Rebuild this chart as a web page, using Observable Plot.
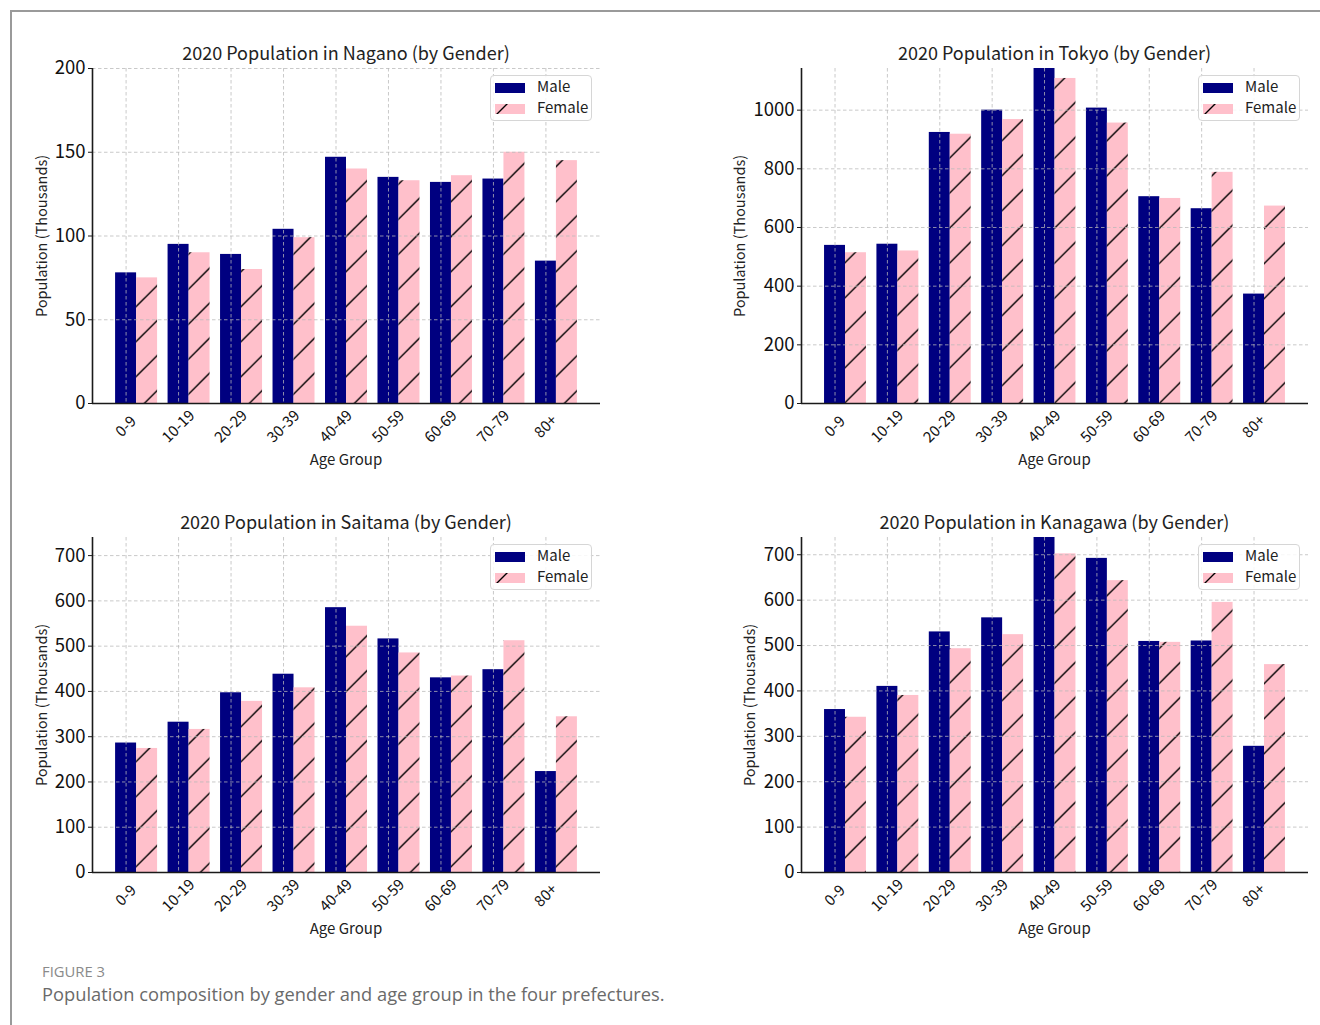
<!DOCTYPE html>
<html>
<head>
<meta charset="utf-8">
<script src="https://cdn.jsdelivr.net/npm/d3@7"></script>
<script src="https://cdn.jsdelivr.net/npm/@observablehq/plot@0.6"></script>
<style>
  html, body { margin: 0; padding: 0; background: #fff; }
  #fig { position: relative; width: 1320px; height: 1025px; overflow: hidden;
         font-family: 'Noto Sans CJK JP', 'Noto Sans', sans-serif; color: #222; }
  .frame { position: absolute; left: 10px; top: 10px; width: 1400px; height: 1100px;
           border-left: 2px solid #9a9a9a; border-top: 2px solid #9a9a9a; }
  .panel { position: absolute; width: 660px; height: 480px; }
  .panel svg { position: absolute; left: 0; top: 0; overflow: visible; }
  .title { position: absolute; transform: translate(-50%, -50%); font-size: 18px; color: #222; white-space: nowrap; }
  .xlabel { position: absolute; transform: translate(-50%, -50%); font-size: 15px; color: #222; white-space: nowrap; }
  .ylabel { position: absolute; transform: translate(-50%, -50%) rotate(-90deg); font-size: 14.5px; color: #222; white-space: nowrap; }
  .legend { position: absolute; width: 100px; height: 44px; border: 1px solid #d6d6d6; border-radius: 4px;
            background: rgba(255,255,255,0.85); }
  .legend .item { position: absolute; left: 4px; height: 16px; font-size: 15px; color: #222; }
  .legend .item svg { position: absolute; left: 0; top: 1px; }
  .legend .item span { position: absolute; left: 42px; top: -6px; white-space: nowrap; line-height: 20px; }
  .fignum { position: absolute; left: 42px; top: 961px; font-family: 'Open Sans', Lato, sans-serif; font-size: 14.8px; color: #8a8a8a; }
  .caption { position: absolute; left: 42px; top: 981px; font-family: 'Open Sans', Lato, sans-serif; font-size: 18.3px; color: #6a6a6a; white-space: nowrap; }
</style>
</head>
<body>
<div id="fig">
  <div class="frame"></div>
  <div class="fignum">FIGURE 3</div>
  <div class="caption">Population composition by gender and age group in the four prefectures.</div>
</div>
<script>
// ---- data ----
const ageGroups = ["0-9", "10-19", "20-29", "30-39", "40-49", "50-59", "60-69", "70-79", "80+"];
const genders = ["Male", "Female"];
const prefectures = ["Nagano", "Tokyo", "Saitama", "Kanagawa"];

const naganoMale     = [78, 95, 89, 104, 147, 135, 132, 134, 85];
const naganoFemale   = [75, 90, 80, 99, 140, 133, 136, 150, 145];
const tokyoMale      = [539, 543, 924, 1000, 1142, 1007, 705, 664, 373];
const tokyoFemale    = [514, 520, 918, 968, 1108, 956, 699, 788, 673];
const saitamaMale    = [286, 332, 397, 438, 585, 516, 430, 448, 223];
const saitamaFemale  = [274, 316, 378, 408, 544, 485, 434, 512, 344];
const kanagawaMale   = [359, 410, 530, 561, 738, 692, 509, 510, 278];
const kanagawaFemale = [342, 390, 493, 524, 702, 643, 507, 595, 458];

const yMaxes = [200, 1142, 740, 738];
const yTickValues = [
  [0, 50, 100, 150, 200],
  [0, 200, 400, 600, 800, 1000],
  [0, 100, 200, 300, 400, 500, 600, 700],
  [0, 100, 200, 300, 400, 500, 600, 700]
];
const maleSeries = [naganoMale, tokyoMale, saitamaMale, kanagawaMale];
const femaleSeries = [naganoFemale, tokyoFemale, saitamaFemale, kanagawaFemale];

// ---- layout / style ----
const colors = { Male: "#000080", Female: "#ffc0cb" };
const panelLeft = [0, 660, 0, 660];
const panelTop = [0, 0, 469, 469];
const mLeft = [92, 141, 92, 141];
const mRight = [60, 12, 60, 12];
const mTop = 68, mBottom = 77, W = 660, H = 480;
const yLabelOffset = [52, 63, 52, 53];
const xDomain = [-0.64, 9.04];
const barW = 0.4;
const hatchSize = 35, hatchPhase = 22.7;

const fig = document.getElementById("fig");

function hatchDefs(id, phase) {
  return `<defs><pattern id="${id}" patternUnits="userSpaceOnUse" width="${hatchSize}" height="${hatchSize}" patternTransform="translate(${phase},0)">
    <rect width="${hatchSize}" height="${hatchSize}" fill="${colors.Female}"/>
    <path d="M0,${hatchSize}L${hatchSize},0M-5,5L5,-5M${hatchSize-5},${hatchSize+5}L${hatchSize+5},${hatchSize-5}" stroke="#000" stroke-width="1.4" fill="none"/>
  </pattern></defs>`;
}

prefectures.forEach((pref, p) => {
  const rows = ageGroups.flatMap((age, i) => [
    { i, age, gender: "Male", value: maleSeries[p][i] },
    { i, age, gender: "Female", value: femaleSeries[p][i] }
  ]);
  const hatchId = "hatch" + p;
  const phase = ((hatchPhase - panelLeft[p] - panelTop[p]) % hatchSize + hatchSize) % hatchSize;
  const ageIdx = ageGroups.map((_, i) => i);
  const gridStyle = { stroke: "#b8b8b8", strokeWidth: 0.9, strokeDasharray: "3.5,2.5", strokeOpacity: 0.85 };

  const svg = Plot.plot({
    width: W, height: H,
    marginTop: mTop, marginBottom: mBottom, marginLeft: mLeft[p], marginRight: mRight[p],
    x: { type: "linear", domain: xDomain },
    y: { domain: [0, yMaxes[p]] },
    style: { fontFamily: "'Noto Sans CJK JP', 'Noto Sans', sans-serif", fontSize: "14px", color: "#111", background: "transparent", overflow: "visible" },
    marks: [
      Plot.rectY(rows.filter(d => d.gender === "Male"), {
        x1: d => d.i - barW / 2, x2: d => d.i + barW / 2, y: "value", fill: colors.Male, inset: 0
      }),
      Plot.rectY(rows.filter(d => d.gender === "Female"), {
        x1: d => d.i + barW / 2, x2: d => d.i + barW * 1.5, y: "value", fill: `url(#${hatchId})`, inset: 0
      }),
      Plot.gridX({ ticks: ageIdx, ...gridStyle }),
      Plot.gridY({ ticks: yTickValues[p], ...gridStyle }),
      Plot.ruleY([0], { stroke: "#1a1a1a", strokeWidth: 1.6 }),
      Plot.ruleX([xDomain[0]], { stroke: "#1a1a1a", strokeWidth: 1.6 }),
      Plot.axisY({ ticks: yTickValues[p], tickFormat: "d", tickSize: 4, tickPadding: 3, fontSize: 18.5, label: null, stroke: "#1a1a1a" }),
      Plot.axisX({ ticks: ageIdx, tickFormat: i => ageGroups[i], tickSize: 0, tickPadding: 23, tickRotate: -45,
                   textAnchor: "middle", lineAnchor: "middle", fontSize: 15, label: null })
    ]
  });
  svg.insertAdjacentHTML("afterbegin", hatchDefs(hatchId, phase));

  const panel = document.createElement("div");
  panel.className = "panel";
  panel.style.left = panelLeft[p] + "px";
  panel.style.top = panelTop[p] + "px";
  panel.appendChild(svg);

  const plotCenterX = (mLeft[p] + (W - mRight[p])) / 2;
  const plotCenterY = (mTop + (H - mBottom)) / 2;

  const title = document.createElement("div");
  title.className = "title";
  title.textContent = `2020 Population in ${pref} (by Gender)`;
  title.style.left = plotCenterX + "px";
  title.style.top = "52px";
  panel.appendChild(title);

  const xl = document.createElement("div");
  xl.className = "xlabel";
  xl.textContent = "Age Group";
  xl.style.left = plotCenterX + "px";
  xl.style.top = "458px";
  panel.appendChild(xl);

  const yl = document.createElement("div");
  yl.className = "ylabel";
  yl.textContent = "Population (Thousands)";
  yl.style.left = (mLeft[p] - yLabelOffset[p]) + "px";
  yl.style.top = plotCenterY + "px";
  panel.appendChild(yl);

  const lg = document.createElement("div");
  lg.className = "legend";
  lg.style.left = (W - mRight[p] - 110) + "px";
  lg.style.top = "75px";
  genders.forEach((g, k) => {
    const item = document.createElement("div");
    item.className = "item";
    item.style.top = (6 + k * 21) + "px";
    const fill = g === "Male" ? colors.Male : `url(#lg${hatchId})`;
    const defs = g === "Male" ? "" : hatchDefs("lg" + hatchId, 12);
    item.innerHTML = `<svg width="30" height="10">${defs}<rect width="30" height="10" fill="${fill}"/></svg><span>${g}</span>`;
    lg.appendChild(item);
  });
  panel.appendChild(lg);

  fig.appendChild(panel);
});
</script>
</body>
</html>
